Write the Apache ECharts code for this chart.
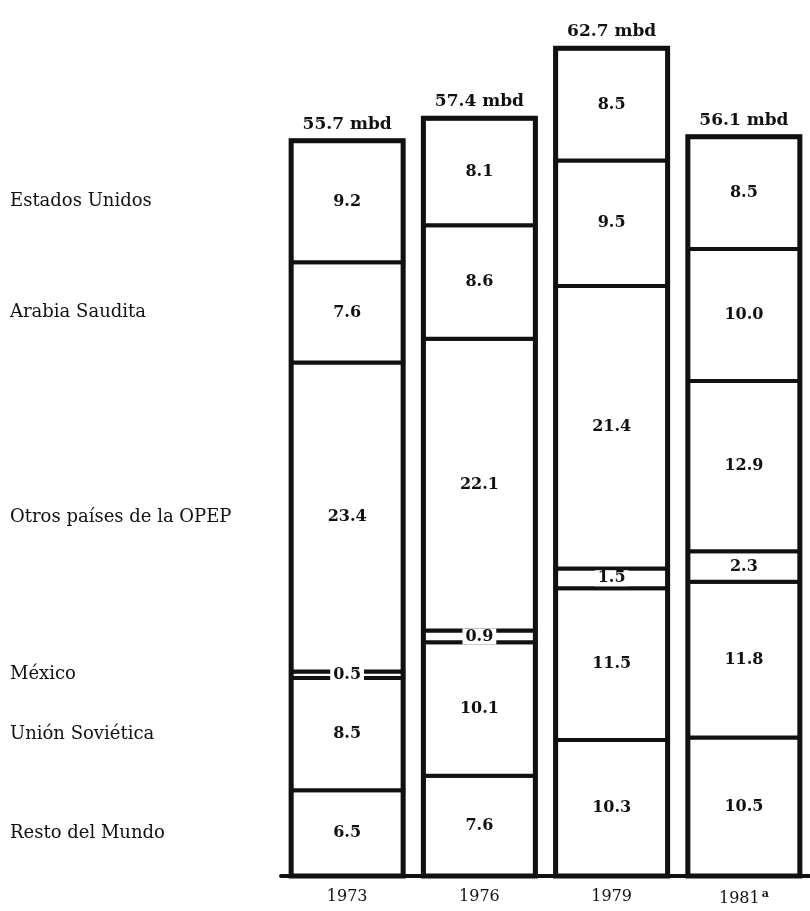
<!DOCTYPE html>
<html><head><meta charset="utf-8">
<script src="https://cdn.jsdelivr.net/npm/echarts@6/dist/echarts.min.js"></script>
<style>html,body{margin:0;padding:0;background:#fff}#c{width:810px;height:911px}</style>
</head><body><div id="c"></div>
<script>
const years = ['1973', '1976', '1979', '1981'];
const yearNotes = ['', '', '', 'a'];
const seriesNames = ['Resto del Mundo', 'Unión Soviética', 'México', 'Otros países de la OPEP', 'Arabia Saudita', 'Estados Unidos'];
const resto = [6.5, 7.6, 10.3, 10.5];
const urss = [8.5, 10.1, 11.5, 11.8];
const mexico = [0.5, 0.9, 1.5, 2.3];
const otrosOpep = [23.4, 22.1, 21.4, 12.9];
const arabia = [7.6, 8.6, 9.5, 10.0];
const eeuu = [9.2, 8.1, 8.5, 8.5];
const totals = [55.7, 57.4, 62.7, 56.1];
const totalUnit = 'mbd';

const values = [resto, urss, mexico, otrosOpep, arabia, eeuu];
const FONT = '"DejaVu Serif"';
const BAR_W = 112;
const INK = '#111';
const chart = echarts.init(document.getElementById('c'));

// cumulative stacking
const base = years.map(() => 0);
const series = values.map((v, si) => {
  const data = v.map((val, ci) => {
    const b = base[ci]; base[ci] += val;
    return [ci, b, b + val, val];
  });
  return {
    name: seriesNames[si], type: 'custom', silent: true, clip: false,
    encode: { x: 0, y: [1, 2] },
    data: data,
    renderItem: (params, api) => {
      const ci = api.value(0);
      const p0 = api.coord([ci, api.value(1)]);
      const p1 = api.coord([ci, api.value(2)]);
      const cy = (p0[1] + p1[1]) / 2;
      const children = [
        { type: 'rect', shape: { x: p0[0] - BAR_W / 2, y: p1[1], width: BAR_W, height: p0[1] - p1[1] },
          style: { fill: '#fff', stroke: INK, lineWidth: 4 }, z2: 1 },
        { type: 'text', z2: 5,
          style: { text: api.value(3).toFixed(1), x: p0[0], y: cy, align: 'center', verticalAlign: 'middle',
            font: 'bold 16px ' + FONT, fill: INK, backgroundColor: '#fff', padding: [0, 3] } }
      ];
      if (params.dataIndex === 0) {
        children.push({ type: 'text', z2: 5,
          style: { text: seriesNames[si], x: 10, y: cy, align: 'left', verticalAlign: 'middle',
            font: '18px ' + FONT, fill: INK } });
      }
      return { type: 'group', children: children };
    }
  };
});

// outer outline and total label
series.push({
  name: 'total', type: 'custom', silent: true, clip: false,
  encode: { x: 0, y: 1 },
  data: base.map((t, ci) => [ci, t]),
  z: 3,
  renderItem: (params, api) => {
    const ci = api.value(0);
    const p0 = api.coord([ci, 0]);
    const p1 = api.coord([ci, api.value(1)]);
    return { type: 'group', children: [
      { type: 'rect', shape: { x: p0[0] - BAR_W / 2, y: p1[1], width: BAR_W, height: p0[1] - p1[1] },
        style: { fill: 'none', stroke: INK, lineWidth: 5 } },
      { type: 'text', style: { text: totals[ci].toFixed(1) + ' ' + totalUnit, x: p0[0], y: p1[1] - 8,
          align: 'center', verticalAlign: 'bottom', font: 'bold 17px ' + FONT, fill: INK } }
    ] };
  }
});

chart.setOption({
  animation: false,
  backgroundColor: '#fff',
  grid: { left: 281, width: 530, top: 18, bottom: 35, containLabel: false },
  xAxis: {
    type: 'category', data: years,
    axisLine: { lineStyle: { color: INK, width: 4 } },
    axisTick: { show: false },
    axisLabel: { interval: 0, hideOverlap: false, margin: 13, color: INK, fontFamily: 'DejaVu Serif', fontSize: 16,
      formatter: (v, i) => yearNotes[i] ? v + '{sup|' + yearNotes[i] + '}' : v,
      rich: { sup: { fontSize: 11, fontFamily: 'DejaVu Serif', fontWeight: 'bold', color: INK, verticalAlign: 'top', padding: [0, 0, 8, 2] } } }
  },
  yAxis: { type: 'value', min: 0, max: 65, show: false, splitLine: { show: false } },
  series: series
});
</script></body></html>
